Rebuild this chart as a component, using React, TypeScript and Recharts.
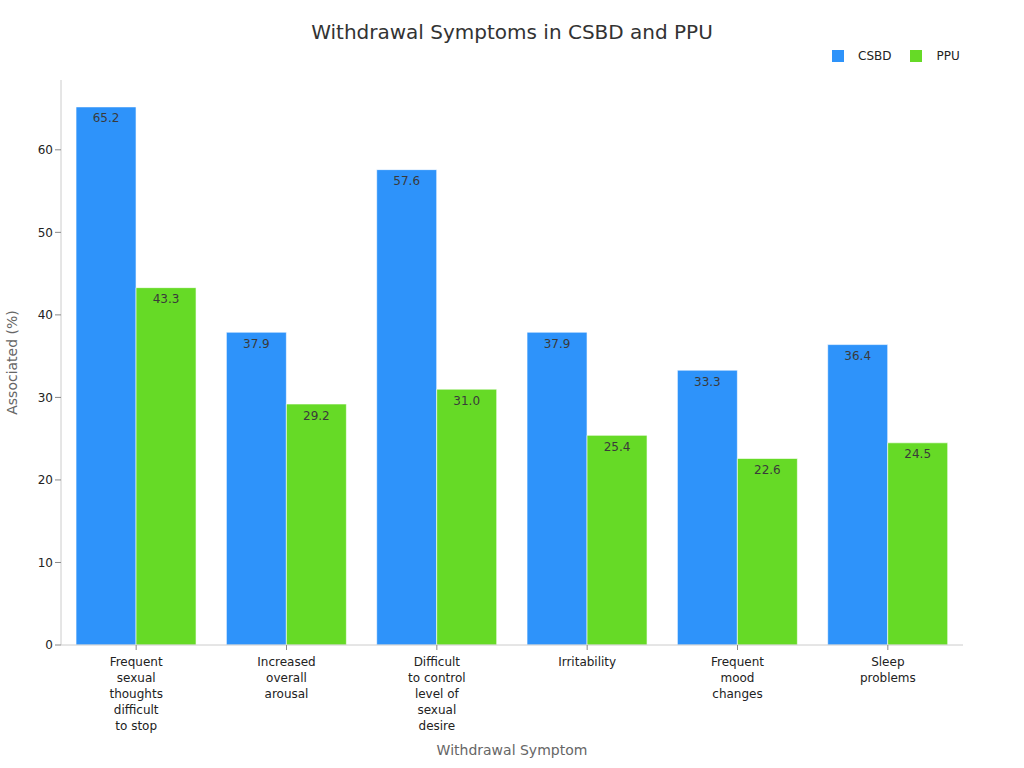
import { BarChart, Bar, XAxis, YAxis, LabelList, Label } from "recharts";

const categories = [
  ["Frequent", "sexual", "thoughts", "difficult", "to stop"],
  ["Increased", "overall", "arousal"],
  ["Difficult", "to control", "level of", "sexual", "desire"],
  ["Irritability"],
  ["Frequent", "mood", "changes"],
  ["Sleep", "problems"],
];
const csbd = [65.2, 37.9, 57.6, 37.9, 33.3, 36.4];
const ppu = [43.3, 29.2, 31.0, 25.4, 22.6, 24.5];
const yTicks = [0, 10, 20, 30, 40, 50, 60];

const BLUE = "#2E93FA";
const GREEN = "#66DA26";

const data = categories.map((lines, i) => ({
  name: lines.join(" "),
  CSBD: csbd[i],
  PPU: ppu[i],
}));

const FONT = "'DejaVu Sans', sans-serif";

function WrappedTick(props: any) {
  const { x, y, index } = props;
  const lines = categories[index] || [];
  return (
    <g transform={`translate(${x},${y})`}>
      <text textAnchor="middle" fontSize={12} fill="#222" fontFamily={FONT}>
        {lines.map((l, i) => (
          <tspan key={i} x={0} dy={i === 0 ? 14 : 16}>
            {l}
          </tspan>
        ))}
      </text>
    </g>
  );
}

export default function App() {
  return (
    <div style={{ position: "absolute", left: 0, top: 0, width: 1024, height: 768, background: "#fff", fontFamily: FONT }}>
      <div
        style={{
          position: "absolute",
          top: 20,
          width: 1024,
          textAlign: "center",
          fontSize: 20,
          color: "#333",
        }}
      >
        Withdrawal Symptoms in CSBD and PPU
      </div>
      <div style={{ position: "absolute", top: 49, left: 832, fontSize: 12, color: "#222", display: "flex", alignItems: "center" }}>
        {[["CSBD", BLUE], ["PPU", GREEN]].map(([n, c]) => (
          <span key={n} style={{ display: "flex", alignItems: "center", marginRight: 19 }}>
            <span style={{ width: 12, height: 12, background: c, display: "inline-block", marginRight: 14 }} />
            {n}
          </span>
        ))}
      </div>
      <BarChart
        width={1024}
        height={768}
        data={data}
        margin={{ top: 80, right: 61, bottom: 0, left: 0 }}
        barCategoryGap="10%"
        barGap={0}
      >
        <XAxis
          dataKey="name"
          tick={<WrappedTick />}
          interval={0}
          stroke="#ccc"
          tickLine={{ stroke: "#888" }}
          tickSize={5}
          height={123}
        >
          <Label
            value="Withdrawal Symptom"
            position="insideBottom"
            offset={13}
            fill="#666"
            fontSize={14}
            fontFamily={FONT}
          />
        </XAxis>
        <YAxis
          domain={[0, 68.46]}
          ticks={yTicks}
          stroke="#ccc"
          tick={{ fill: "#222", fontSize: 12, fontFamily: FONT }}
          tickLine={{ stroke: "#888" }}
          width={61}
        >
          <Label
            value="Associated (%)"
            angle={-90}
            position="insideLeft"
            offset={12}
            style={{ textAnchor: "middle" }}
            fill="#666"
            fontSize={14}
            fontFamily={FONT}
          />
        </YAxis>
        <Bar dataKey="CSBD" fill={BLUE} stroke="#ffffff" strokeOpacity={0.6} isAnimationActive={false}>
          <LabelList
            dataKey="CSBD"
            position="insideTop"
            offset={7}
            formatter={(v: number) => v.toFixed(1)}
            fill="#3a3a3a"
            fontSize={12}
            fontFamily={FONT}
          />
        </Bar>
        <Bar dataKey="PPU" fill={GREEN} stroke="#ffffff" strokeOpacity={0.6} isAnimationActive={false}>
          <LabelList
            dataKey="PPU"
            position="insideTop"
            offset={7}
            formatter={(v: number) => v.toFixed(1)}
            fill="#3a3a3a"
            fontSize={12}
            fontFamily={FONT}
          />
        </Bar>
      </BarChart>
    </div>
  );
}
